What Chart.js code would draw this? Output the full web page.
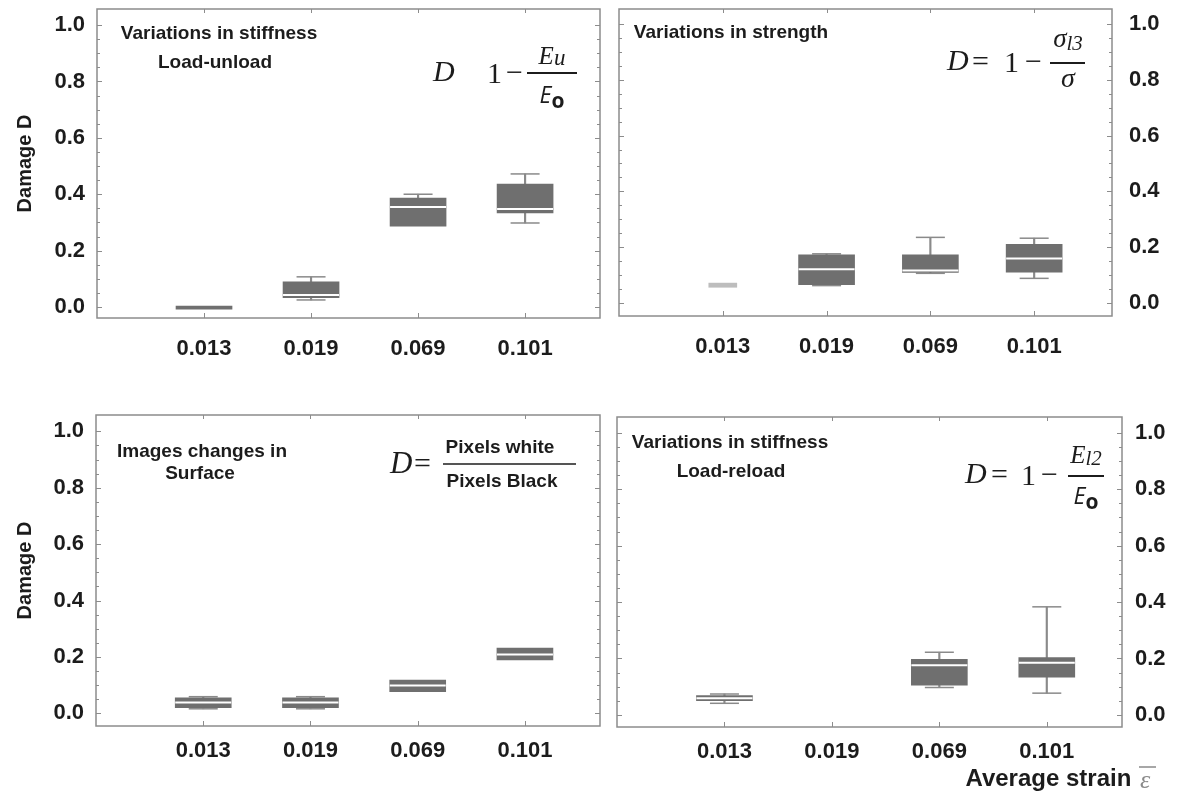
<!DOCTYPE html>
<html><head><meta charset="utf-8">
<script src="https://cdn.jsdelivr.net/npm/chart.js@4.4.1/dist/chart.umd.min.js"></script>
<style>
html,body{margin:0;padding:0;background:#fff;width:1185px;height:795px;overflow:hidden;}
canvas{position:absolute;display:block;}
</style></head><body>
<canvas id="c1" width="610" height="390" style="left:0;top:0"></canvas>
<canvas id="c2" width="575" height="390" style="left:610px;top:0"></canvas>
<canvas id="c3" width="610" height="405" style="left:0;top:390px"></canvas>
<canvas id="c4" width="575" height="405" style="left:610px;top:390px"></canvas>
<script>
// ---- data ----
const strainLabels = ['0.013', '0.019', '0.069', '0.101'];
const damageTicks = [0, 0.2, 0.4, 0.6, 0.8, 1.0];

// Variations in stiffness, load-unload
const unloadMin = [null, 0.025, null, 0.298];
const unloadQ1  = [-0.008, 0.033, 0.287, 0.334];
const unloadMed = [null, 0.043, 0.355, 0.348];
const unloadQ3  = [0.003, 0.089, 0.386, 0.436];
const unloadMax = [null, 0.107, 0.400, 0.472];

// Variations in strength
const strengthMin = [null, 0.062, 0.106, 0.088];
const strengthQ1  = [null, 0.065, 0.109, 0.110];
const strengthMed = [null, 0.121, 0.116, 0.159];
const strengthQ3  = [null, 0.172, 0.172, 0.210];
const strengthMax = [null, 0.176, 0.235, 0.232];
const strengthFaintLow  = [0.056, null, null, null];
const strengthFaintHigh = [0.071, null, null, null];

// Images changes in surface
const surfaceMin = [0.016, 0.016, null, null];
const surfaceQ1  = [0.020, 0.020, 0.077, 0.189];
const surfaceMed = [0.038, 0.038, 0.099, 0.209];
const surfaceQ3  = [0.055, 0.055, 0.118, 0.231];
const surfaceMax = [0.059, 0.059, null, null];

// Variations in stiffness, load-reload
const reloadMin = [0.041, null, 0.097, 0.077];
const reloadQ1  = [0.050, null, 0.105, 0.134];
const reloadMed = [0.059, null, 0.176, 0.185];
const reloadQ3  = [0.068, null, 0.197, 0.203];
const reloadMax = [0.074, null, 0.222, 0.383];

// ---- styling ----
const SANS = '"Liberation Sans", Arial, sans-serif';
const SERIF = '"Liberation Serif", "Times New Roman", serif';
const OSANS = '"Open Sans", "DejaVu Sans", sans-serif';
const BOX = '#6f6f6f', WHISK = '#8a8a8a', FRAME = '#8c8c8c', INK = '#1c1c1c', FAINT = '#bdbdbd';

function pts(vals) { return vals.map((v, i) => v == null ? null : {x: i, y: v}).filter(Boolean); }
function ranges(lo, hi) { return lo.map((v, i) => (v == null || hi[i] == null) ? null : {x: i, y: [v, hi[i]]}).filter(Boolean); }

function boxDatasets(mn, q1, md, q3, mx) {
  return [
    {type: 'scatter', data: pts(md), pointStyle: 'line', radius: 28, hoverRadius: 28, borderWidth: 2, borderColor: '#ffffff'},
    {type: 'bar', data: ranges(q1, q3), backgroundColor: BOX, barThickness: 56, grouped: false, borderWidth: 0},
    {type: 'scatter', data: pts(mx), pointStyle: 'line', radius: 14.5, hoverRadius: 14.5, borderWidth: 1.5, borderColor: WHISK},
    {type: 'scatter', data: pts(mn), pointStyle: 'line', radius: 14.5, hoverRadius: 14.5, borderWidth: 1.5, borderColor: WHISK},
    {type: 'bar', data: ranges(q3, mx), backgroundColor: WHISK, barThickness: 1.5, grouped: false, borderWidth: 0},
    {type: 'bar', data: ranges(mn, q1), backgroundColor: WHISK, barThickness: 1.5, grouped: false, borderWidth: 0}
  ];
}

// frame with inner ticks on all four sides
const framePlugin = {
  id: 'frameTicks',
  afterDatasetsDraw(chart) {
    const {ctx, chartArea: a, scales: {x, y}} = chart;
    ctx.save();
    ctx.strokeStyle = FRAME;
    ctx.lineWidth = 1.5;
    ctx.strokeRect(a.left, a.top, a.right - a.left, a.bottom - a.top);
    ctx.lineWidth = 1;
    ctx.beginPath();
    for (let k = 0; k <= 20; k++) {
      const v = k * 0.05;
      const py = Math.round(y.getPixelForValue(v)) + 0.5;
      const len = (k % 4 === 0) ? 5 : 3;
      ctx.moveTo(a.left, py); ctx.lineTo(a.left + len, py);
      ctx.moveTo(a.right, py); ctx.lineTo(a.right - len, py);
    }
    strainLabels.forEach((_, i) => {
      const px = Math.round(x.getPixelForValue(i)) + 0.5;
      ctx.moveTo(px, a.bottom); ctx.lineTo(px, a.bottom - 5);
      ctx.moveTo(px, a.top); ctx.lineTo(px, a.top + 4);
    });
    ctx.stroke();
    ctx.restore();
  }
};

function txt(ctx, s, x, y, font, align, color) {
  ctx.font = font; ctx.textAlign = align || 'left'; ctx.textBaseline = 'middle';
  ctx.fillStyle = color || INK; ctx.fillText(s, x, y);
}
function composite(ctx, parts, cx, cy) {
  let w = 0;
  parts.forEach(p => { ctx.font = p.font; p.w = ctx.measureText(p.t).width; w += p.w + (p.gap || 0); });
  let x = cx - w / 2;
  parts.forEach(p => { txt(ctx, p.t, x, cy + (p.dy || 0), p.font, 'left'); x += p.w + (p.gap || 0); });
}
function hbar(ctx, x1, x2, y, lw) {
  ctx.save(); ctx.strokeStyle = INK; ctx.lineWidth = lw || 2;
  ctx.beginPath(); ctx.moveTo(x1, y); ctx.lineTo(x2, y); ctx.stroke(); ctx.restore();
}
function annotPlugin(ox, oy, draw) {
  return {
    id: 'annot',
    afterDraw(chart) {
      const ctx = chart.ctx;
      ctx.save(); ctx.translate(-ox, -oy); draw(ctx); ctx.restore();
    }
  };
}
function noPad(s) { s.paddingTop = 0; s.paddingBottom = 0; s.paddingLeft = 0; s.paddingRight = 0; }

const TITLE = 'bold 19px ' + SANS;
const D_FONT = 'italic 30px ' + SERIF;
const UP_FONT = '30px ' + SERIF;

function makeChart(id, cfg) {
  return new Chart(document.getElementById(id), {
    type: 'bar',
    data: {datasets: cfg.datasets},
    options: {
      responsive: false, animation: false, events: [],
      layout: {padding: cfg.pad, autoPadding: false},
      plugins: {legend: {display: false}, tooltip: {enabled: false}},
      scales: {
        x: {
          type: 'linear', min: -1, max: cfg.xMax, offset: false,
          grid: {display: false, drawTicks: false}, border: {display: false},
          afterBuildTicks: s => { s.ticks = strainLabels.map((_, i) => ({value: i})); },
          afterFit: s => { s.height = cfg.xHeight; noPad(s); },
          ticks: {autoSkip: false, maxRotation: 0, minRotation: 0, padding: cfg.xPad, color: INK,
                  font: {family: SANS, size: 22, weight: 'bold'},
                  callback: (v, i) => strainLabels[i]}
        },
        y: {
          type: 'linear', position: cfg.yPos, min: cfg.yMin, max: cfg.yMax,
          grid: {display: false, drawTicks: false}, border: {display: false},
          afterBuildTicks: s => { s.ticks = damageTicks.map(v => ({value: v})); },
          afterFit: s => { s.width = cfg.yWidth; noPad(s); },
          ticks: {padding: cfg.yPad, color: INK, font: {family: SANS, size: 22, weight: 'bold'},
                  callback: v => Number(v).toFixed(1)},
          title: {display: !!cfg.yTitle, text: 'Damage D', color: INK,
                  font: {family: SANS, size: 20, weight: 'bold'}, padding: {top: 13, bottom: 0}}
        }
      }
    },
    plugins: [framePlugin, annotPlugin(cfg.ox, cfg.oy, cfg.annot)]
  });
}

// Panel 1: stiffness load-unload
makeChart('c1', {
  datasets: boxDatasets(unloadMin, unloadQ1, unloadMed, unloadQ3, unloadMax),
  pad: {left: 0, top: 9, right: 10, bottom: 0}, yWidth: 97, xHeight: 72, xPad: 18, yPad: 12, xMax: 3.7,
  yPos: 'left', yMin: -0.039, yMax: 1.057, yTitle: true, ox: 0, oy: 0,
  annot: ctx => {
    txt(ctx, 'Variations in stiffness', 219, 34, TITLE, 'center');
    txt(ctx, 'Load-unload', 215, 63, TITLE, 'center');
    txt(ctx, 'D', 433, 73, D_FONT);
    txt(ctx, '1', 487, 75, UP_FONT);
    txt(ctx, '\u2212', 506, 74, UP_FONT);
    hbar(ctx, 527, 577, 73, 2.2);
    composite(ctx, [{t: 'E', font: 'italic 25px ' + SERIF}, {t: 'u', font: 'italic 23px ' + SERIF, dy: 2}], 552, 57);
    composite(ctx, [{t: 'E', font: 'italic 23px ' + OSANS}, {t: 'o', font: 'bold 21px ' + OSANS, dy: 6}], 552, 96);
  }
});

// Panel 2: strength
const ds2 = boxDatasets(strengthMin, strengthQ1, strengthMed, strengthQ3, strengthMax);
ds2.push({type: 'bar', data: ranges(strengthFaintLow, strengthFaintHigh), backgroundColor: FAINT, barThickness: 28, grouped: false, borderWidth: 0});
makeChart('c2', {
  datasets: ds2,
  pad: {left: 9, top: 9, right: 0, bottom: 0}, yWidth: 73, xHeight: 74, xPad: 18, yPad: 17, xMax: 3.75,
  yPos: 'right', yMin: -0.047, yMax: 1.054, yTitle: false, ox: 610, oy: 0,
  annot: ctx => {
    txt(ctx, 'Variations in strength', 731, 33, TITLE, 'center');
    txt(ctx, 'D', 947, 62, D_FONT);
    txt(ctx, '=', 972, 63, UP_FONT);
    txt(ctx, '1', 1004, 64, UP_FONT);
    txt(ctx, '\u2212', 1025, 63, UP_FONT);
    hbar(ctx, 1050, 1085, 63, 2.2);
    composite(ctx, [{t: '\u03C3', font: 'italic 27px ' + SERIF}, {t: 'l3', font: 'italic 21px ' + SERIF, dy: 4}], 1068, 40);
    composite(ctx, [{t: '\u03C3', font: 'italic 28px ' + SERIF}], 1068, 80);
  }
});

// Panel 3: image changes in surface
makeChart('c3', {
  datasets: boxDatasets(surfaceMin, surfaceQ1, surfaceMed, surfaceQ3, surfaceMax),
  pad: {left: 0, top: 25, right: 10, bottom: 0}, yWidth: 96, xHeight: 69, xPad: 12, yPad: 12, xMax: 3.7,
  yPos: 'left', yMin: -0.045, yMax: 1.058, yTitle: true, ox: 0, oy: 390,
  annot: ctx => {
    txt(ctx, 'Images changes in', 202, 452, TITLE, 'center');
    txt(ctx, 'Surface', 200, 474, TITLE, 'center');
    txt(ctx, 'D', 390, 465, 'italic 31px ' + SERIF);
    txt(ctx, '=', 414, 465, UP_FONT);
    hbar(ctx, 443, 576, 464, 1.6);
    txt(ctx, 'Pixels white', 500, 448, TITLE, 'center');
    txt(ctx, 'Pixels Black', 502, 482, TITLE, 'center');
  }
});

// Panel 4: stiffness load-reload
makeChart('c4', {
  datasets: boxDatasets(reloadMin, reloadQ1, reloadMed, reloadQ3, reloadMax),
  pad: {left: 7, top: 27, right: 0, bottom: 0}, yWidth: 63, xHeight: 68, xPad: 12, yPad: 13, xMax: 3.7,
  yPos: 'right', yMin: -0.043, yMax: 1.056, yTitle: false, ox: 610, oy: 390,
  annot: ctx => {
    txt(ctx, 'Variations in stiffness', 730, 443, TITLE, 'center');
    txt(ctx, 'Load-reload', 731, 472, TITLE, 'center');
    txt(ctx, 'D', 965, 475, D_FONT);
    txt(ctx, '=', 991, 476, UP_FONT);
    txt(ctx, '1', 1021, 477, UP_FONT);
    txt(ctx, '\u2212', 1041, 476, UP_FONT);
    hbar(ctx, 1068, 1104, 476, 2.2);
    composite(ctx, [{t: 'E', font: 'italic 25px ' + SERIF}, {t: 'l2', font: 'italic 21px ' + SERIF, dy: 3}], 1086, 456);
    composite(ctx, [{t: 'E', font: 'italic 23px ' + OSANS}, {t: 'o', font: 'bold 21px ' + OSANS, dy: 6}], 1086, 497);
    // axis caption
    const capFont = 'bold 24px ' + SANS;
    const cap = 'Average strain ';
    ctx.font = capFont;
    const w = ctx.measureText(cap).width;
    txt(ctx, cap, 1138 - w, 779, capFont, 'left');
    txt(ctx, '\u03B5', 1140, 781, 'italic 26px ' + SERIF, 'left', '#8a8a8a');
    ctx.save(); ctx.strokeStyle = '#8a8a8a'; ctx.lineWidth = 1.5;
    ctx.beginPath(); ctx.moveTo(1139, 767); ctx.lineTo(1156, 767); ctx.stroke(); ctx.restore();
  }
});
</script>
</body></html>
